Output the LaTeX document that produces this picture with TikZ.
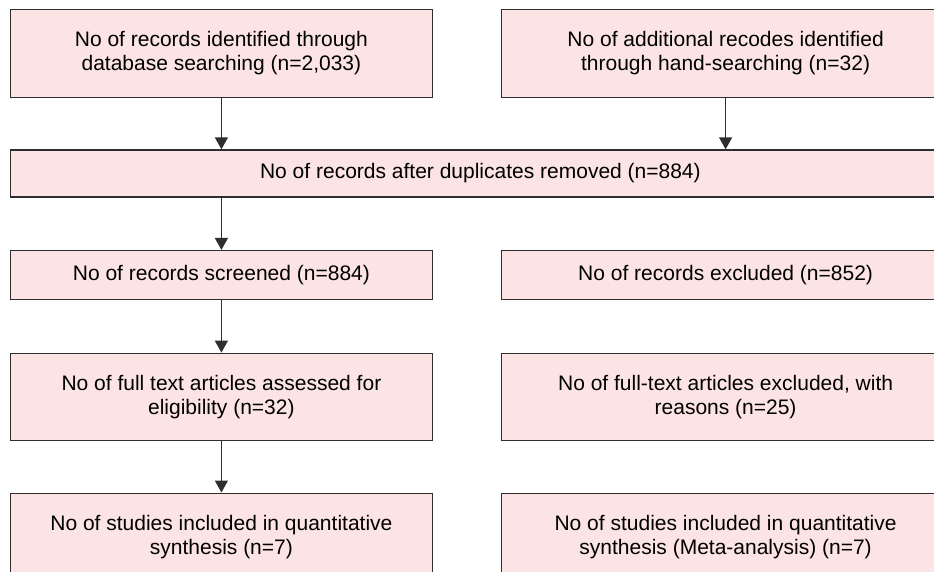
\documentclass[tikz,border=0pt]{standalone}
\usepackage{fontspec}
\setmainfont{Liberation Sans}
\usetikzlibrary{positioning,arrows.meta}
\definecolor{boxfill}{HTML}{FCE4E4}
\definecolor{boxline}{HTML}{2E2E2E}
\tikzset{
  every node/.style={font=\fontsize{21}{24}\selectfont},
  box/.style={
    draw=boxline, line width=1.3pt, fill=boxfill,
    align=center, inner sep=4pt, anchor=north west
  },
  colL/.style={box, minimum width=422.5pt},
  colR/.style={box, minimum width=448.7pt},
  arr/.style={-{Triangle[length=12pt,width=13pt]}, line width=1.5pt, draw=boxline}
}
\begin{document}
\begin{tikzpicture}[x=1pt, y=1pt, node distance=51pt]
\useasboundingbox (0,0) rectangle (934,-571);
\clip (0,0) rectangle (934,-571);

% identification
\node[colL, minimum height=87.7pt] (idb) at (9.5,-9)
  {No of records identified through\\database searching (n=2,033)};
\node[colR, minimum height=87.7pt, below right=0pt and 67.3pt of idb.north east] (ihand)
  {No of additional recodes identified\\through hand-searching (n=32)};

\node[box, minimum width=940.5pt, minimum height=47pt,
      below right=51.3pt and 0pt of idb.south west] (dedup)
  {No of records after duplicates removed (n=884)};

% screening
\node[colL, minimum height=48.7pt, below right=52.3pt and 0pt of dedup.south west] (screen)
  {No of records screened (n=884)};
\node[colR, minimum height=48.7pt, below right=0pt and 67.3pt of screen.north east] (excl)
  {No of records excluded (n=852)};

% eligibility
\node[colL, minimum height=87.3pt, below right=52.7pt and 0pt of screen.south west] (fulltext)
  {No of full text articles assessed for\\eligibility (n=32)};
\node[colR, minimum height=87.3pt, below right=0pt and 67.3pt of fulltext.north east] (ftexcl)
  {No of full-text articles excluded, with\\reasons (n=25)};

% included
\node[colL, minimum height=87.3pt, below right=51.3pt and 0pt of fulltext.south west] (incl)
  {No of studies included in quantitative\\synthesis (n=7)};
\node[colR, minimum height=87.3pt, below right=0pt and 67.3pt of incl.north east] (meta)
  {No of studies included in quantitative\\synthesis (Meta-analysis) (n=7)};

\draw[arr] (idb.south) -- (idb.south |- dedup.north);
\draw[arr] (ihand.south) -- (ihand.south |- dedup.north);
\draw[arr] (screen.north |- dedup.south) -- (screen.north);
\draw[arr] (screen) -- (fulltext);
\draw[arr] (fulltext) -- (incl);

\end{tikzpicture}
\end{document}
